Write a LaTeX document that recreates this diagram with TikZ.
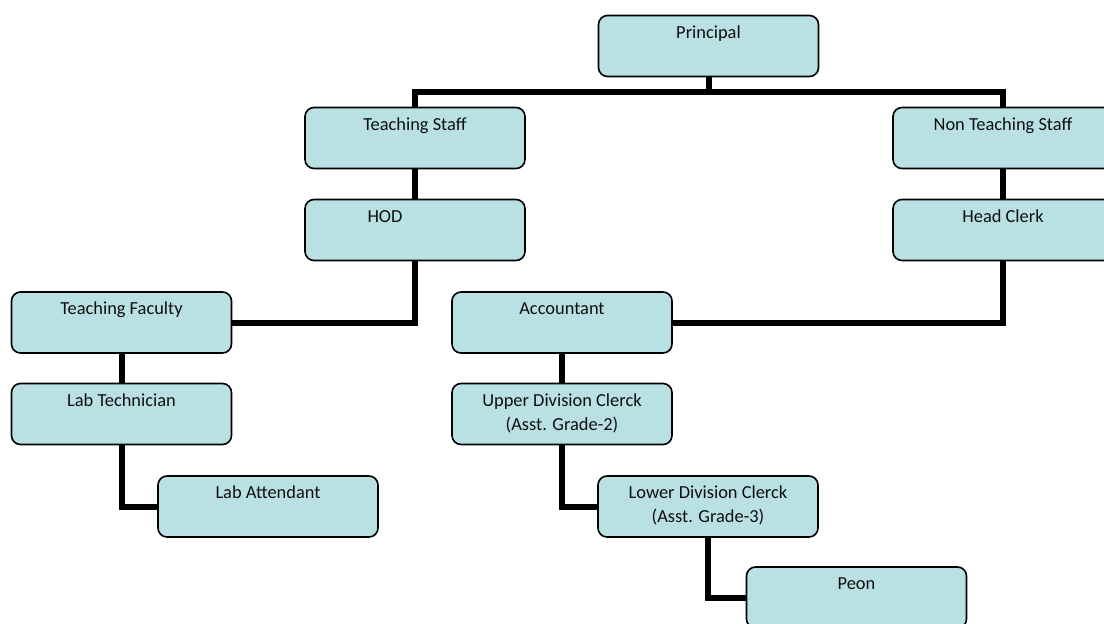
\documentclass[tikz,border=0pt]{standalone}
\usepackage{fontspec}
\setmainfont{Carlito}
\definecolor{boxfill}{RGB}{185,224,227}
\definecolor{txt}{RGB}{15,15,15}
\newcommand{\bxtext}[1]{\parbox[c][61pt][t]{220pt}{\centering\fontsize{18.4}{24}\selectfont\color{txt}\rule{0pt}{22.5pt}#1}}
\begin{document}
\begin{tikzpicture}[x=1pt,y=-1pt,
  orgbox/.style={draw=black, line width=1.6pt, fill=boxfill, rounded corners=9pt, inner sep=0pt, outer sep=0pt},
  link/.style={line width=6pt, black}]
\useasboundingbox (0,0) rectangle (1104,624);
\node[orgbox] (P) at (708.5,46) {\bxtext{Principal}};
\node[orgbox] (TS) at (415,138) {\bxtext{Teaching Staff}};
\node[orgbox] (NTS) at (1003,138) {\bxtext{Non Teaching Staff}};
\node[orgbox] (HOD) at (415,230) {\bxtext{HOD\hspace*{60pt}}};
\node[orgbox] (HC) at (1003,230) {\bxtext{Head Clerk}};
\node[orgbox] (TF) at (121.5,322.5) {\bxtext{Teaching Faculty}};
\node[orgbox] (AC) at (562,322.5) {\bxtext{Accountant}};
\node[orgbox] (LT) at (121.5,414) {\bxtext{Lab Technician}};
\node[orgbox] (UDC) at (562,414) {\bxtext{Upper Division Clerck\\(Asst. Grade-2)}};
\node[orgbox] (LA) at (268,506.5) {\bxtext{Lab Attendant}};
\node[orgbox] (LDC) at (708,506.5) {\bxtext{Lower Division Clerck\\(Asst. Grade-3)}};
\node[orgbox] (PE) at (856.5,597.5) {\bxtext{Peon}};
\draw[link] (P.south) -- ++(0,15) coordinate (pj);
\draw[link] (TS.north) |- (pj) -| (NTS.north);
\draw[link] (TS.south) -- (HOD.north);
\draw[link] (NTS.south) -- (HC.north);
\draw[link] (HOD.south) |- (TF.east);
\draw[link] (HC.south) |- (AC.east);
\draw[link] (TF.south) -- (LT.north);
\draw[link] (LT.south) |- (LA.west);
\draw[link] (AC.south) -- (UDC.north);
\draw[link] (UDC.south) |- (LDC.west);
\draw[link] (LDC.south) |- (PE.west);
\end{tikzpicture}
\end{document}
